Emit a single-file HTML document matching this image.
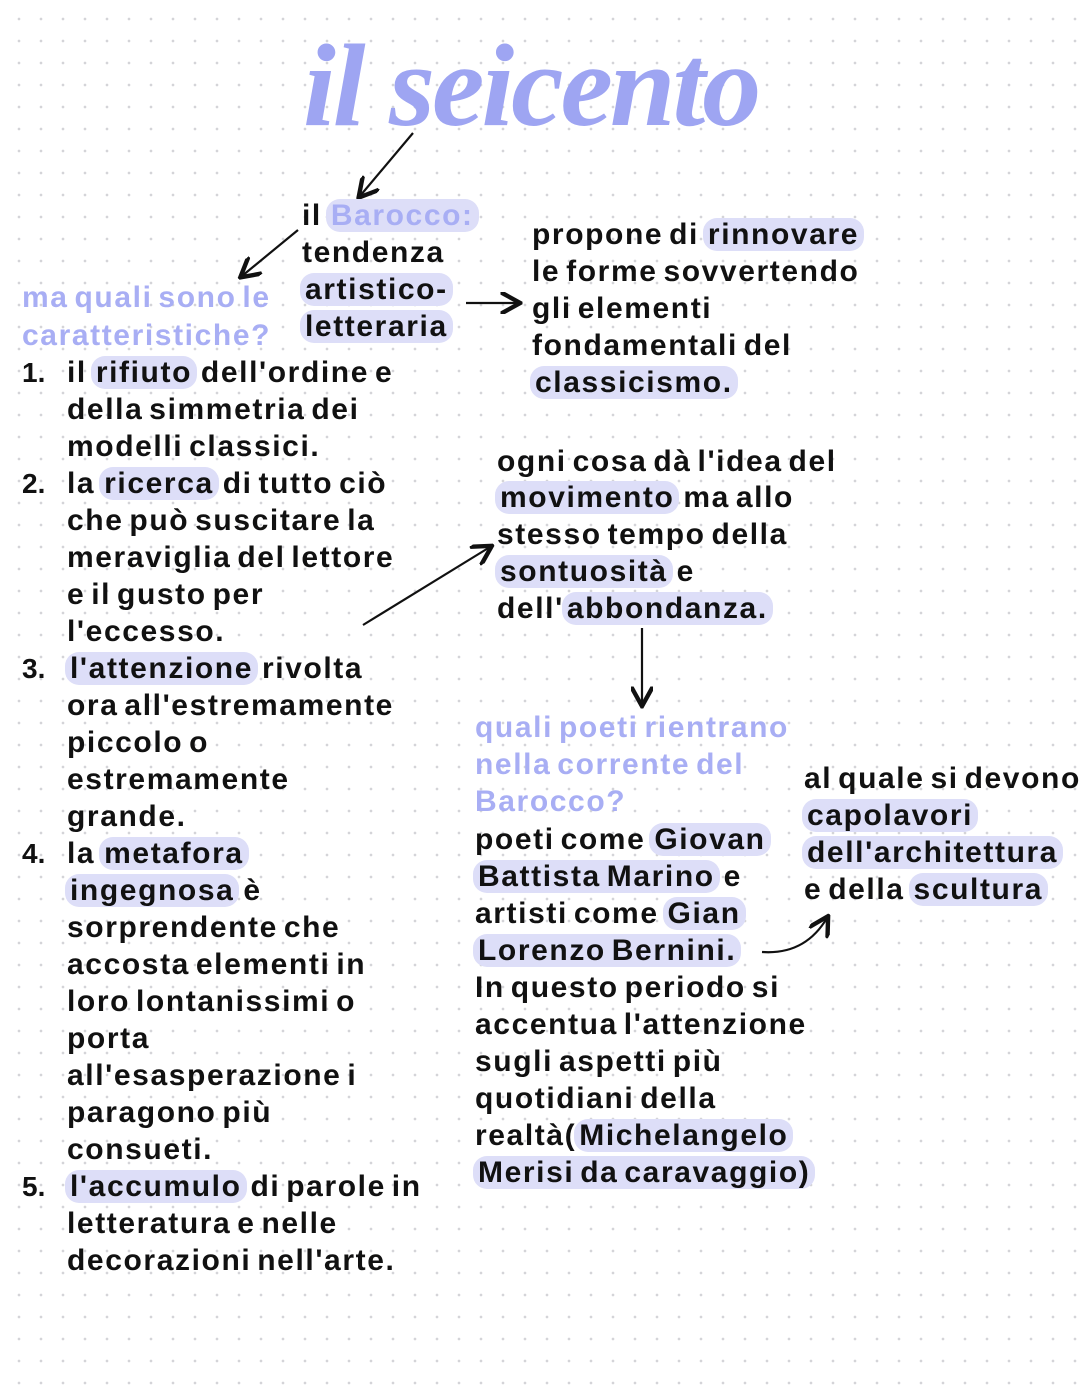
<!DOCTYPE html>
<html><head><meta charset="utf-8">
<style>
html,body{margin:0;padding:0}
body{width:1080px;height:1394px;position:relative;overflow:hidden;background:#fff;
background-image:radial-gradient(circle,#d4d4d8 1.1px,transparent 1.6px);background-size:22px 22px;background-position:8px 8px;
font-family:"Liberation Sans",sans-serif;}
.t{position:absolute;font-size:30px;font-weight:bold;color:#111;white-space:nowrap;line-height:36px;letter-spacing:1.6px;word-spacing:-4px;transform:translateY(-18px)}
.p{color:#a8aef4}
.h{background:#dddef8;border-radius:14px;padding:0 5px;margin:0 -2px}
.n{position:absolute;font-size:28px;font-weight:bold;color:#111;transform:translateY(-18px);line-height:36px}
.title{position:absolute;left:303px;top:18px;font-family:"Liberation Serif",serif;font-style:italic;font-weight:bold;font-size:118px;color:#9ea5f2;letter-spacing:-3px;transform:scaleX(1.0);transform-origin:left}
</style></head><body>
<div class="title">il seicento</div>
<svg width="1080" height="1394" style="position:absolute;left:0;top:0">
<defs><marker id="a" markerWidth="10" markerHeight="10" refX="8" refY="5" orient="auto"><path d="M0,0 L9,5 L0,10" fill="none" stroke="#111" stroke-width="2"/></marker></defs>
<g stroke="#111" stroke-width="2.2" fill="none" marker-end="url(#a)">
<line x1="413" y1="133" x2="360" y2="196"/>
<line x1="298" y1="230" x2="242" y2="276"/>
<line x1="466" y1="303" x2="518" y2="303"/>
<line x1="363" y1="625" x2="490" y2="547"/>
<line x1="642" y1="628" x2="642" y2="704"/>
<path d="M762 952 Q805 955 827 918"/>
</g></svg>

<div class="t" style="left:302px;top:216px">il <span class="p h">Barocco:</span></div>
<div class="t" style="left:302px;top:253px">tendenza</div>
<div class="t" style="left:302px;top:290px"><span class="h">artistico-</span></div>
<div class="t" style="left:302px;top:327px"><span class="h">letteraria</span></div>

<div class="t p" style="left:22px;top:298px">ma quali sono le</div>
<div class="t p" style="left:22px;top:336px">caratteristiche?</div>

<div class="t" style="left:532px;top:235px">propone di <span class="h">rinnovare</span></div>
<div class="t" style="left:532px;top:272px">le forme sovvertendo</div>
<div class="t" style="left:532px;top:309px">gli elementi</div>
<div class="t" style="left:532px;top:346px">fondamentali del</div>
<div class="t" style="left:532px;top:383px"><span class="h">classicismo.</span></div>

<div class="n" style="left:22px;top:373px">1.</div>
<div class="n" style="left:22px;top:484px">2.</div>
<div class="n" style="left:22px;top:669px">3.</div>
<div class="n" style="left:22px;top:854px">4.</div>
<div class="n" style="left:22px;top:1187px">5.</div>

<div class="t" style="left:67px;top:373px">il <span class="h">rifiuto</span> dell'ordine e</div>
<div class="t" style="left:67px;top:410px">della simmetria dei</div>
<div class="t" style="left:67px;top:447px">modelli classici.</div>
<div class="t" style="left:67px;top:484px">la <span class="h">ricerca</span> di tutto ciò</div>
<div class="t" style="left:67px;top:521px">che può suscitare la</div>
<div class="t" style="left:67px;top:558px">meraviglia del lettore</div>
<div class="t" style="left:67px;top:595px">e il gusto per</div>
<div class="t" style="left:67px;top:632px">l'eccesso.</div>
<div class="t" style="left:67px;top:669px"><span class="h">l'attenzione</span> rivolta</div>
<div class="t" style="left:67px;top:706px">ora all'estremamente</div>
<div class="t" style="left:67px;top:743px">piccolo o</div>
<div class="t" style="left:67px;top:780px">estremamente</div>
<div class="t" style="left:67px;top:817px">grande.</div>
<div class="t" style="left:67px;top:854px">la <span class="h">metafora</span></div>
<div class="t" style="left:67px;top:891px"><span class="h">ingegnosa</span> è</div>
<div class="t" style="left:67px;top:928px">sorprendente che</div>
<div class="t" style="left:67px;top:965px">accosta elementi in</div>
<div class="t" style="left:67px;top:1002px">loro lontanissimi o</div>
<div class="t" style="left:67px;top:1039px">porta</div>
<div class="t" style="left:67px;top:1076px">all'esasperazione i</div>
<div class="t" style="left:67px;top:1113px">paragono più</div>
<div class="t" style="left:67px;top:1150px">consueti.</div>
<div class="t" style="left:67px;top:1187px"><span class="h">l'accumulo</span> di parole in</div>
<div class="t" style="left:67px;top:1224px">letteratura e nelle</div>
<div class="t" style="left:67px;top:1261px">decorazioni nell'arte.</div>

<div class="t" style="left:497px;top:462px">ogni cosa dà l'idea del</div>
<div class="t" style="left:497px;top:498px"><span class="h">movimento</span> ma allo</div>
<div class="t" style="left:497px;top:535px">stesso tempo della</div>
<div class="t" style="left:497px;top:572px"><span class="h">sontuosità</span> e</div>
<div class="t" style="left:497px;top:609px">dell'<span class="h">abbondanza.</span></div>

<div class="t p" style="left:475px;top:728px">quali poeti rientrano</div>
<div class="t p" style="left:475px;top:765px">nella corrente del</div>
<div class="t p" style="left:475px;top:802px">Barocco?</div>
<div class="t" style="left:475px;top:840px">poeti come <span class="h">Giovan</span></div>
<div class="t" style="left:475px;top:877px"><span class="h">Battista Marino</span> e</div>
<div class="t" style="left:475px;top:914px">artisti come <span class="h">Gian</span></div>
<div class="t" style="left:475px;top:951px"><span class="h">Lorenzo Bernini.</span></div>
<div class="t" style="left:475px;top:988px">In questo periodo si</div>
<div class="t" style="left:475px;top:1025px">accentua l'attenzione</div>
<div class="t" style="left:475px;top:1062px">sugli aspetti più</div>
<div class="t" style="left:475px;top:1099px">quotidiani della</div>
<div class="t" style="left:475px;top:1136px">realtà(<span class="h">Michelangelo</span></div>
<div class="t" style="left:475px;top:1173px"><span class="h">Merisi da caravaggio)</span></div>

<div class="t" style="left:804px;top:779px">al quale si devono</div>
<div class="t" style="left:804px;top:816px"><span class="h">capolavori</span></div>
<div class="t" style="left:804px;top:853px"><span class="h">dell'architettura</span></div>
<div class="t" style="left:804px;top:890px">e della <span class="h">scultura</span></div>
</body></html>
